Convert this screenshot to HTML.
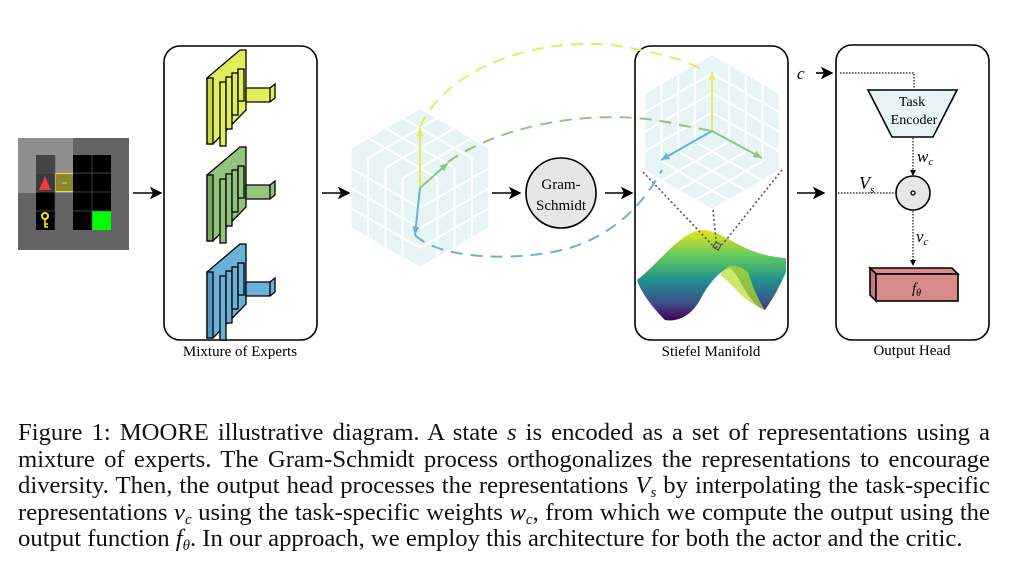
<!DOCTYPE html>
<html><head><meta charset="utf-8"><style>
body{margin:0;background:#fff;width:1012px;height:568px;overflow:hidden;position:relative;font-family:"Liberation Serif",serif}
svg{position:absolute;left:0;top:0}
.cap{position:absolute;left:18px;width:972px;font-size:24.7px;line-height:26.5px;top:420px;color:#111}
.cap div{text-align:justify;text-align-last:justify;white-space:nowrap;height:26.5px}
.cap div.last{text-align-last:left}
.cap sub{font-size:15px;line-height:0;vertical-align:-4px}
i{font-style:italic}
</style></head><body>
<svg id="d" width="1012" height="400" viewBox="0 0 1012 400">
<defs>
<marker id="ah" markerWidth="8" markerHeight="8" refX="7" refY="4" orient="auto"><path d="M0,0 L8,4 L0,8 L2,4Z" fill="#000"/></marker>
<linearGradient id="vir" x1="0" y1="0" x2="0" y2="1"><stop offset="0" stop-color="#e8e419"/><stop offset="0.3" stop-color="#5ec962"/><stop offset="0.55" stop-color="#21918c"/><stop offset="0.8" stop-color="#3b528b"/><stop offset="1" stop-color="#440154"/></linearGradient>
</defs>
<g>
<rect x="18" y="138" width="111" height="112" fill="#646464"/>
<rect x="18" y="138" width="55" height="55" fill="#8f8f8f"/>
<rect x="36" y="155" width="19" height="18" fill="#444"/>
<rect x="36" y="173" width="19" height="19" fill="#3a3a3a"/>
<polygon points="45,176 51,190 39,190" fill="#ee3b3b"/>
<rect x="55.5" y="173.5" width="18" height="18" fill="#8a8530" stroke="#e8e43a"/>
<line x1="62" y1="183" x2="67" y2="183" stroke="#e8e43a"/>
<rect x="36" y="192" width="19" height="38" fill="#000"/>
<circle cx="45" cy="216" r="3" fill="none" stroke="#ffe600" stroke-width="2"/><path d="M45,219 V227 H48 M45,224 H48" stroke="#ffe600" stroke-width="1.6" fill="none"/>
<rect x="73" y="155" width="38" height="75" fill="#000"/>
<rect x="92" y="211" width="19" height="19" fill="#00ff00"/>
<path d="M36,173H55M36,192H55M36,211H55M73,173H111M73,192H111M73,211H111M92,155V230M55,155V230" stroke="#555" stroke-width="0.7"/>
</g>
<g stroke="#000" stroke-width="1.6" marker-end="url(#ah)">
<line x1="133" y1="193" x2="161" y2="193"/><line x1="322" y1="193" x2="349" y2="193"/>
<line x1="492" y1="193" x2="520" y2="193"/><line x1="605" y1="193" x2="632" y2="193"/>
<line x1="797" y1="193" x2="824" y2="193"/><line x1="816" y1="73" x2="832" y2="73"/>
</g>
<rect x="164" y="46" width="153" height="294" rx="16" fill="none" stroke="#000" stroke-width="1.6"/>
<rect x="635" y="46" width="153" height="294" rx="16" fill="none" stroke="#000" stroke-width="1.6"/>
<rect x="836" y="45" width="153" height="295" rx="16" fill="none" stroke="#000" stroke-width="1.6"/>
<g font-size="15" text-anchor="middle" fill="#000">
<text x="240" y="356">Mixture of Experts</text>
<text x="711" y="356">Stiefel Manifold</text>
<text x="912" y="355">Output Head</text>
</g>
<g id="experts"></g>
<g id="cubes"></g>
<g>
<path d="M637,280 C660,262 680,232 702,230 C725,230 740,255 786,258 L786,272 C778,290 772,300 765,310 C748,305 740,275 730,268 C718,270 705,290 700,300 C690,318 675,322 665,320 C650,305 640,290 637,280Z" fill="url(#vir)"/>
<path d="M720,275 C728,262 738,264 748,272 C752,285 758,300 765,310 C740,300 735,285 720,275Z" fill="#b8de29" opacity="0.7"/>
</g>
<g stroke="#555" stroke-width="1.6" stroke-dasharray="2,2.5" fill="none">
<line x1="643" y1="172" x2="717" y2="250"/><line x1="713" y1="210" x2="717" y2="250"/><line x1="782" y1="170" x2="722" y2="245"/>
</g>
<rect x="714" y="243" width="6" height="6" fill="none" stroke="#444" transform="rotate(30 717 246)"/>
<g fill="none" stroke-width="2" stroke-dasharray="12,8">
<path d="M420,127 C450,60 560,30 640,50 C670,56 690,62 702,70" stroke="#e0ee5c"/>
<path d="M448,162 C500,125 600,105 680,125 L712,131" stroke="#93c47d"/>
<path d="M415,235 C440,260 520,262 570,248 C610,235 640,210 662,170" stroke="#6bb0d6"/>
</g>
<g>
<circle cx="561" cy="193" r="35" fill="#e6e6e6" stroke="#000" stroke-width="1.6"/>
<text x="561" y="189" font-size="15" text-anchor="middle">Gram-</text>
<text x="561" y="210" font-size="15" text-anchor="middle">Schmidt</text>
</g>
<text x="797" y="79" font-size="17" font-style="italic">c</text>
<g stroke="#333" stroke-width="1.4" stroke-dasharray="1.5,1.5" fill="none">
<path d="M840,73 H914 V88"/><path d="M913,138 V172"/><path d="M838,193 H895"/><path d="M913,211 V262"/>
</g>
<path d="M910,170 L913,176 L916,170Z M910,260 L913,266 L916,260Z" fill="#000"/>
<polygon points="868,90 957,90 933,137 892,137" fill="#e6f4f6" stroke="#000" stroke-width="1.6"/>
<text x="912" y="106" font-size="14" text-anchor="middle">Task</text>
<text x="914" y="124" font-size="14" text-anchor="middle">Encoder</text>
<text x="917" y="162" font-size="17" font-style="italic">w<tspan font-size="11" dy="3">c</tspan></text>
<text x="859" y="189" font-size="18" font-style="italic">V<tspan font-size="11" dy="4">s</tspan></text>
<circle cx="913" cy="193" r="17" fill="#e6e6e6" stroke="#000" stroke-width="1.6"/>
<circle cx="913" cy="193" r="2" fill="none" stroke="#000" stroke-width="1.3"/>
<text x="916" y="242" font-size="17" font-style="italic">v<tspan font-size="11" dy="3">c</tspan></text>
<g stroke="#000" stroke-width="1.6">
<polygon points="870,268 952,268 958,274 876,274" fill="#d98a8a"/>
<polygon points="870,268 876,274 876,301 870,295" fill="#c97878"/>
<rect x="876" y="274" width="82" height="27" fill="#d98a8a"/>
</g>
<text x="912" y="293" font-size="15" font-style="italic">f<tspan font-size="10" dy="3">θ</tspan></text>
</svg>
<div class="cap">
<div>Figure 1: MOORE illustrative diagram. A state <i>s</i> is encoded as a set of representations using a</div>
<div>mixture of experts. The Gram-Schmidt process orthogonalizes the representations to encourage</div>
<div>diversity. Then, the output head processes the representations <i>V<sub>s</sub></i> by interpolating the task-specific</div>
<div>representations <i>v<sub>c</sub></i> using the task-specific weights <i>w<sub>c</sub></i>, from which we compute the output using the</div>
<div class="last">output function <i>f<sub>θ</sub></i>. In our approach, we employ this architecture for both the actor and the critic.</div>
</div>
<script>
const NS='http://www.w3.org/2000/svg';
function mk(p,t,a){const e=document.createElementNS(NS,t);for(const k in a)e.setAttribute(k,a[k]);p.appendChild(e);return e;}
const ex=document.getElementById('experts');
const cols=[['#e0ee5c','#c8d640'],['#93c47d','#7aab65'],['#6bb0d6','#5598bf']];
const tops=[48,145,242];
cols.forEach((c,i)=>{
  const g=mk(ex,'g',{stroke:'#000','stroke-width':'1.3'});
  
  
  const y=tops[i];
  mk(g,'polygon',{points:`207,${y+30} 240,${y+2} 246,${y+2} 246,${y+62} 213,${y+96} 207,${y+96}`,fill:c[0]});
  mk(g,'rect',{x:207,y:y+30,width:6,height:66,fill:c[1]});
  [[220,26,64],[226,21,52],[232,17,42],[238,13,32]].forEach(l=>{
    mk(g,'rect',{x:l[0],y:y+l[1]+8,width:6,height:l[2],fill:c[0]});
  });
  mk(g,'polygon',{points:`246,${y+40} 270,${y+40} 275,${y+36} 275,${y+50} 270,${y+54} 246,${y+54}`,fill:c[0]});
  mk(g,'line',{x1:270,y1:y+40,x2:270,y2:y+54});
});
const cb=document.getElementById('cubes');
function cube(cx,cy,R,name){
  const g=mk(cb,'g',{});
  
  
  const h=R*0.866;
  mk(g,'polygon',{points:`${cx},${cy-R} ${cx+h},${cy-R/2} ${cx+h},${cy+R/2} ${cx},${cy+R} ${cx-h},${cy+R/2} ${cx-h},${cy-R/2}`,fill:'#e6f4f6'});
  const faces=[[[-h,R/2],[0,-R]],[[h,R/2],[0,-R]],[[-h,R/2],[h,R/2]]];
  faces.forEach(([a,b])=>{
    for(let k=1;k<=4;k++){const t=k/4;
      mk(g,'line',{x1:cx+a[0]*t,y1:cy+a[1]*t,x2:cx+a[0]*t+b[0],y2:cy+a[1]*t+b[1],stroke:'#fff','stroke-width':2});
      mk(g,'line',{x1:cx+b[0]*t,y1:cy+b[1]*t,x2:cx+b[0]*t+a[0],y2:cy+b[1]*t+a[1],stroke:'#fff','stroke-width':2});
    }
  });
  return g;
}
function arrow(g,x1,y1,x2,y2,c){
  mk(g,'line',{x1,y1,x2,y2,stroke:c,'stroke-width':2});
  const a=Math.atan2(y2-y1,x2-x1),s=9;
  mk(g,'polygon',{points:`${x2},${y2} ${x2-s*Math.cos(a-0.4)},${y2-s*Math.sin(a-0.4)} ${x2-s*Math.cos(a+0.4)},${y2-s*Math.sin(a+0.4)}`,fill:c});
}
const c1=cube(420,188,80,'representation-space-cube');
c1.setAttribute('transform','rotate(180 420 188)');
const a1=mk(cb,'g',{});


arrow(a1,420,188,420,128,'#e0ee5c');arrow(a1,420,188,448,163,'#93c47d');arrow(a1,420,188,415,235,'#6bb0d6');
cube(712,132,78,'stiefel-cube');
const a2=mk(cb,'g',{});


arrow(a2,712,131,712,72,'#e0ee5c');arrow(a2,712,131,762,158,'#93c47d');arrow(a2,712,131,661,160,'#6bb0d6');
</script>
</body></html>
